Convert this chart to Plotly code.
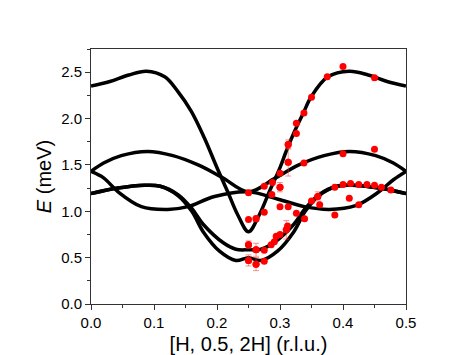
import plotly.graph_objects as go

# calculated spin-wave branches along [H, 0.5, 2H]: H (r.l.u.) and E (meV)
h_a = [0, 0.03, 0.06, 0.088, 0.117, 0.138, 0.159, 0.18, 0.2, 0.217, 0.233, 0.25,
       0.267, 0.283, 0.3, 0.31, 0.323, 0.337, 0.35, 0.376, 0.41, 0.44, 0.47, 0.5]
e_a = [2.35, 2.40, 2.47, 2.51, 2.45, 2.29, 2.08, 1.79, 1.47, 1.21, 0.96, 0.78,
       0.96, 1.21, 1.47, 1.65, 1.86, 2.06, 2.24, 2.45, 2.51, 2.47, 2.40, 2.35]

h_b = [0, 0.02, 0.048, 0.09, 0.13, 0.17, 0.207, 0.25, 0.293, 0.33, 0.37, 0.41, 0.452, 0.48, 0.5]
e_b = [1.43, 1.52, 1.60, 1.645, 1.60, 1.50, 1.37, 1.21, 1.36, 1.50, 1.60, 1.645, 1.60, 1.52, 1.43]

h_c = [0, 0.02, 0.043, 0.08, 0.122, 0.154, 0.196, 0.25, 0.297, 0.339, 0.378, 0.42, 0.457, 0.48, 0.5]
e_c = [1.43, 1.36, 1.21, 1.05, 1.02, 1.05, 1.16, 1.21, 1.13, 1.05, 1.02, 1.06, 1.21, 1.34, 1.43]

h_d = [0, 0.043, 0.085, 0.11, 0.138, 0.16, 0.178, 0.21, 0.23, 0.25, 0.27, 0.29,
       0.322, 0.34, 0.362, 0.39, 0.415, 0.457, 0.5]
e_d = [1.19, 1.25, 1.28, 1.27, 1.18, 1.03, 0.86, 0.66, 0.59, 0.585, 0.59, 0.66,
       0.86, 1.03, 1.18, 1.27, 1.28, 1.25, 1.19]

h_e = [0, 0.043, 0.085, 0.11, 0.138, 0.16, 0.178, 0.204, 0.23, 0.25, 0.27, 0.296,
       0.322, 0.34, 0.362, 0.39, 0.415, 0.457, 0.5]
e_e = [1.19, 1.25, 1.28, 1.27, 1.17, 1.0, 0.78, 0.57, 0.47, 0.50, 0.47, 0.57,
       0.78, 1.0, 1.17, 1.27, 1.28, 1.25, 1.19]

branches = [(h_a, e_a), (h_b, e_b), (h_c, e_c), (h_d, e_d), (h_e, e_e)]

# measured excitations (0 in err = no error bar)
h_data = [0.40, 0.375, 0.45, 0.35, 0.338, 0.326, 0.326, 0.313, 0.313, 0.338,
          0.40, 0.45, 0.30, 0.288, 0.275, 0.30, 0.387, 0.40, 0.412, 0.425,
          0.438, 0.45, 0.461, 0.476, 0.25, 0.287, 0.30, 0.313, 0.25, 0.262,
          0.275, 0.326, 0.339, 0.35, 0.36, 0.363, 0.387, 0.41, 0.425, 0.25,
          0.262, 0.275, 0.286, 0.291, 0.294, 0.30, 0.31, 0.312, 0.25, 0.262, 0.275]
e_data = [2.56, 2.45, 2.44, 2.23, 2.06, 1.95, 1.84, 1.72, 1.53, 1.52,
          1.62, 1.67, 1.41, 1.31, 1.27, 1.26, 1.26, 1.29, 1.30, 1.29,
          1.29, 1.28, 1.26, 1.23, 1.20, 1.18, 1.05, 1.05, 0.91, 0.92,
          0.99, 0.98, 0.92, 1.11, 1.16, 1.07, 0.96, 1.14, 1.07, 0.64,
          0.585, 0.58, 0.64, 0.67, 0.73, 0.75, 0.80, 0.84, 0.47, 0.43, 0.46]
err_data = [0, 0, 0, 0, 0, 0, 0, 0.05, 0.15, 0,
            0, 0, 0, 0, 0, 0.05, 0, 0, 0, 0,
            0, 0, 0, 0, 0, 0, 0, 0, 0, 0.03,
            0, 0, 0, 0, 0.05, 0, 0, 0, 0, 0.04,
            0.07, 0, 0, 0, 0, 0, 0.1, 0, 0.06, 0.07, 0]

fig = go.Figure()

for h, e in branches:
    fig.add_trace(go.Scatter(x=h, y=e, mode='lines',
                             line=dict(color='black', width=3.5, shape='spline', smoothing=1.0),
                             showlegend=False, hoverinfo='skip'))

idx = [i for i in range(len(h_data)) if err_data[i] > 0]
fig.add_trace(go.Scatter(
    x=[h_data[i] for i in idx], y=[e_data[i] for i in idx], mode='markers',
    marker=dict(color='red', size=7),
    error_y=dict(type='data', array=[err_data[i] for i in idx], visible=True,
                 color='rgba(255,60,60,0.55)', thickness=1, width=3),
    showlegend=False))
fig.add_trace(go.Scatter(x=h_data, y=e_data, mode='markers',
                         marker=dict(color='red', size=7), showlegend=False))

axis_style = dict(showline=True, linecolor='#333', linewidth=1, mirror=True,
                  ticks='outside', ticklen=5, tickcolor='#333', showgrid=False,
                  zeroline=False, tickfont=dict(size=15, color='black'))

fig.update_layout(
    width=463, height=355,
    margin=dict(l=83, r=65, t=41, b=59),
    paper_bgcolor='white', plot_bgcolor='white',
    font=dict(family='Liberation Sans, Arial, sans-serif', color='black'),
    xaxis=dict(range=[0, 0.5], tick0=0, dtick=0.1, tickformat='.1f',
               minor=dict(ticks='outside', ticklen=3, dtick=0.05, tickcolor='#333'),
               title=dict(text='[H, 0.5, 2H] (r.l.u.)', font=dict(size=20), standoff=6),
               **axis_style),
    yaxis=dict(range=[0, 2.75], tick0=0, dtick=0.5, tickformat='.1f',
               minor=dict(ticks='outside', ticklen=3, dtick=0.25, tickcolor='#333'),
               title=dict(text='<i>E</i> (meV)', font=dict(size=20), standoff=4),
               **axis_style),
)

fig.write_html("out.html")
